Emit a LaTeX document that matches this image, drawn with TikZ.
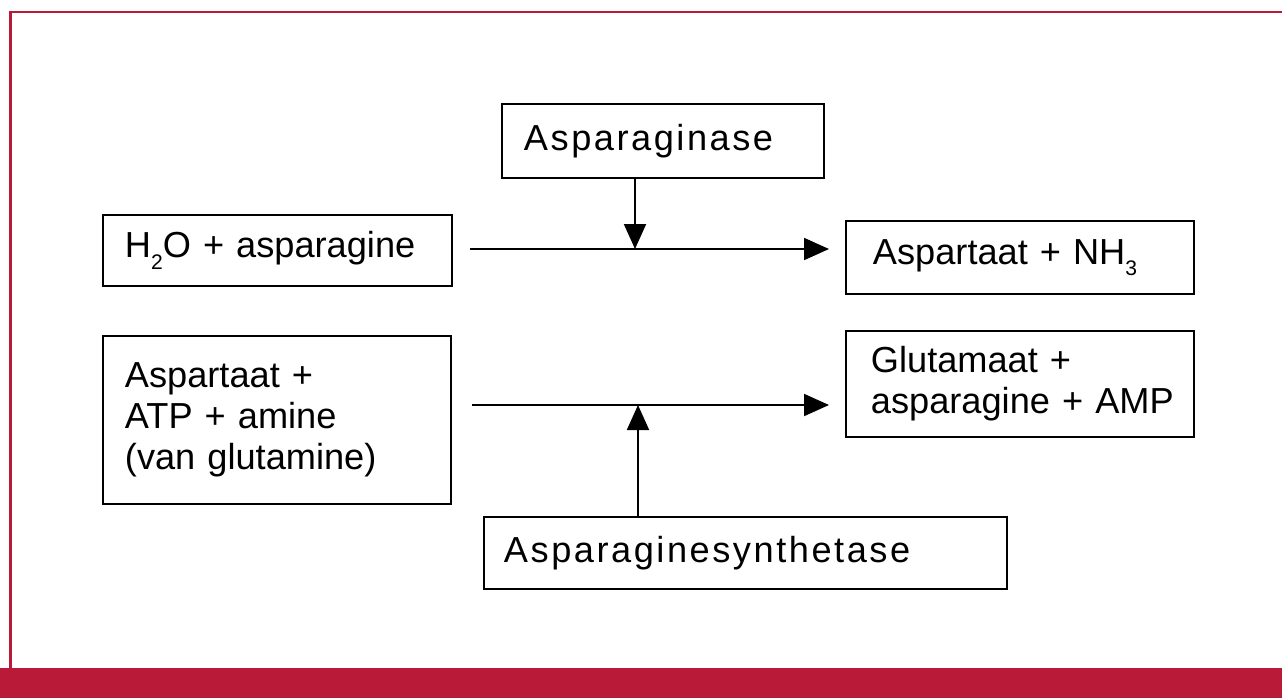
\documentclass[tikz,border=0pt]{standalone}
\usepackage{fontspec}
\setmainfont{Liberation Sans}
\newfontfamily\spaced[LetterSpace=7]{Liberation Sans}
\usetikzlibrary{arrows.meta}
\definecolor{framered}{RGB}{184,26,55}
\newcommand\chemsub[1]{\raisebox{-0.32em}{\fontsize{12}{12}\selectfont #1}}

\begin{document}
\begin{tikzpicture}[x=0.02cm, y=-0.02cm,
    every node/.style={font=\fontsize{20.6}{23.4}\selectfont},
    box/.style={draw, line width=1.1pt, anchor=north west, align=left, inner xsep=0.44cm, inner ysep=0pt},
    react/.style={line width=1.1pt, -{Triangle[length=0.5cm, width=0.44cm]}}]
        \useasboundingbox (0,0) rectangle (1282,698);
        \fill[framered] (0,668) rectangle (1282,698);
        \draw[framered, line width=1.4pt] (10.5,668) -- (10.5,12) -- (1282,12);

        \node (ase) at (501,103) [box, text width=5.56cm, minimum height=1.48cm] {\spaced Asparaginase};
        \node (h2o) at (102,214) [box, text width=6.10cm, minimum height=1.42cm] {H\chemsub{2}O + asparagine};
        \node (nh3) at (845,220) [box, inner xsep=0.54cm, text width=5.88cm, minimum height=1.46cm] {Aspartaat + NH\chemsub{3}};
        \node (asp) at (102,335) [box, text width=6.08cm, minimum height=3.36cm] {Aspartaat +\\ATP + amine\\(van glutamine)\\[-0.25cm]};
        \node (glu) at (845,330) [box, inner xsep=0.5cm, text width=5.96cm, minimum height=2.12cm] {Glutamaat~+\\asparagine~+~AMP};
        \node (syn) at (483,516) [box, inner xsep=0.4cm, text width=9.66cm, minimum height=1.44cm] {\spaced Asparaginesynthetase};

        \coordinate (in1) at (470,249);
        \coordinate (out1) at (829,249);
        \coordinate (hit1) at (635,249);
        \coordinate (in2) at (472,405);
        \coordinate (out2) at (829,405);
        \coordinate (hit2) at (638,405);

        \draw[react] (in1) -- (out1);
        \draw[react] (ase.south -| hit1) -- (hit1);
        \draw[react] (in2) -- (out2);
        \draw[react] (syn.north -| hit2) -- (hit2);
    \end{tikzpicture}
\end{document}
